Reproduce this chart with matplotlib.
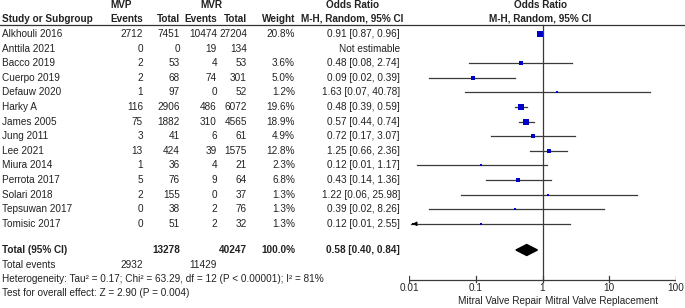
import matplotlib
matplotlib.use("Agg")
import matplotlib.pyplot as plt
import numpy as np

plt.rcParams['font.family'] = ['Liberation Sans', 'DejaVu Sans']

studies = ["Alkhouli 2016", "Anttila 2021", "Bacco 2019", "Cuerpo 2019", "Defauw 2020",
           "Harky A", "James 2005", "Jung 2011", "Lee 2021", "Miura 2014", "Perrota 2017",
           "Solari 2018", "Tepsuwan 2017", "Tomisic 2017"]
mvp_events = [2712, 0, 2, 2, 1, 116, 75, 3, 13, 1, 5, 2, 0, 0]
mvp_total = [7451, 0, 53, 68, 97, 2906, 1882, 41, 424, 36, 76, 155, 38, 51]
mvr_events = [10474, 19, 4, 74, 0, 486, 310, 6, 39, 4, 9, 0, 2, 2]
mvr_total = [27204, 134, 53, 301, 52, 6072, 4565, 61, 1575, 21, 64, 37, 76, 32]
weights = [20.8, None, 3.6, 5.0, 1.2, 19.6, 18.9, 4.9, 12.8, 2.3, 6.8, 1.3, 1.3, 1.3]
odds = [0.91, None, 0.48, 0.09, 1.63, 0.48, 0.57, 0.72, 1.25, 0.12, 0.43, 1.22, 0.39, 0.12]
ci_low = [0.87, None, 0.08, 0.02, 0.07, 0.39, 0.44, 0.17, 0.66, 0.013, 0.14, 0.06, 0.02, 0.006]
ci_high = [0.96, None, 2.74, 0.39, 40.78, 0.59, 0.74, 3.07, 2.36, 1.17, 1.36, 25.98, 8.26, 2.55]
total_mvp, total_mvr = 13278, 40247
events_mvp, events_mvr = 2932, 11429
pooled_or, pooled_lo, pooled_hi = 0.58, 0.40, 0.84
ticks = [0.01, 0.1, 1, 10, 100]
tick_labels = ["0.01", "0.1", "1", "10", "100"]
heterogeneity = "Heterogeneity: Tau\u00b2 = 0.17; Chi\u00b2 = 63.29, df = 12 (P < 0.00001); I\u00b2 = 81%"
overall = "Test for overall effect: Z = 2.90 (P = 0.004)"
left_label, right_label = "Mitral Valve Repair", "Mitral Valve Replacement"

W, H = 685, 308
fig = plt.figure(figsize=(W / 100, H / 100), dpi=100)
fig.patch.set_facecolor("white")

tax = fig.add_axes([0, 0, 1, 1])
tax.set_xlim(0, W)
tax.set_ylim(H, 0)
tax.axis("off")

fs = 7.2
tc = "#222222"
col_x = {"study": 2, "e1": 143, "t1": 180, "e2": 217, "t2": 247, "w": 295, "or": 400}
row0, dy = 34, 14.6
y_total = 250
y_events = 265
y_het = 279
y_test = 293.5

def fmt(v):
    return f"{v:.2f}"

tax.text(121, 5, "MVP", ha="center", va="center", fontsize=fs, fontweight="bold", color=tc)
tax.text(211, 5, "MVR", ha="center", va="center", fontsize=fs, fontweight="bold", color=tc)
tax.text(353, 5, "Odds Ratio", ha="center", va="center", fontsize=fs, fontweight="bold", color=tc)
tax.text(541, 5, "Odds Ratio", ha="center", va="center", fontsize=fs, fontweight="bold", color=tc)
hy = 18.5
tax.text(col_x["study"], hy, "Study or Subgroup", ha="left", va="center", fontsize=fs, fontweight="bold", color=tc)
for key, lab in [("e1", "Events"), ("t1", "Total"), ("e2", "Events"), ("t2", "Total"), ("w", "Weight")]:
    tax.text(col_x[key], hy, lab, ha="right", va="center", fontsize=fs, fontweight="bold", color=tc)
tax.text(352, hy, "M-H, Random, 95% CI", ha="center", va="center", fontsize=fs, fontweight="bold", color=tc)
tax.text(540, hy, "M-H, Random, 95% CI", ha="center", va="center", fontsize=fs, fontweight="bold", color=tc)
tax.plot([0, W], [24.8, 24.8], color="#333333", lw=0.9)

for i, s in enumerate(studies):
    y = row0 + i * dy
    tax.text(col_x["study"], y, s, ha="left", va="center", fontsize=fs, color=tc)
    tax.text(col_x["e1"], y, str(mvp_events[i]), ha="right", va="center", fontsize=fs, color=tc)
    tax.text(col_x["t1"], y, str(mvp_total[i]), ha="right", va="center", fontsize=fs, color=tc)
    tax.text(col_x["e2"], y, str(mvr_events[i]), ha="right", va="center", fontsize=fs, color=tc)
    tax.text(col_x["t2"], y, str(mvr_total[i]), ha="right", va="center", fontsize=fs, color=tc)
    if weights[i] is not None:
        tax.text(col_x["w"], y, f"{weights[i]:.1f}%", ha="right", va="center", fontsize=fs, color=tc)
        tax.text(col_x["or"], y, f"{fmt(odds[i])} [{fmt(ci_low[i])}, {fmt(ci_high[i])}]",
                 ha="right", va="center", fontsize=fs, color=tc)
    else:
        tax.text(col_x["or"], y, "Not estimable", ha="right", va="center", fontsize=fs, color=tc)

tax.text(col_x["study"], y_total, "Total (95% CI)", ha="left", va="center", fontsize=fs, fontweight="bold", color=tc)
tax.text(col_x["t1"], y_total, str(total_mvp), ha="right", va="center", fontsize=fs, fontweight="bold", color=tc)
tax.text(col_x["t2"], y_total, str(total_mvr), ha="right", va="center", fontsize=fs, fontweight="bold", color=tc)
tax.text(col_x["w"], y_total, "100.0%", ha="right", va="center", fontsize=fs, fontweight="bold", color=tc)
tax.text(col_x["or"], y_total, f"{fmt(pooled_or)} [{fmt(pooled_lo)}, {fmt(pooled_hi)}]",
         ha="right", va="center", fontsize=fs, fontweight="bold", color=tc)
tax.text(col_x["study"], y_events, "Total events", ha="left", va="center", fontsize=fs, color=tc)
tax.text(col_x["e1"], y_events, str(events_mvp), ha="right", va="center", fontsize=fs, color=tc)
tax.text(col_x["e2"], y_events, str(events_mvr), ha="right", va="center", fontsize=fs, color=tc)
tax.text(col_x["study"], y_het, heterogeneity, ha="left", va="center", fontsize=fs, color=tc)
tax.text(col_x["study"], y_test, overall, ha="left", va="center", fontsize=fs, color=tc)

x0, x1 = 409, 676
fax = fig.add_axes([x0 / W, 0, (x1 - x0) / W, 1])
fax.set_xscale("log")
fax.set_xlim(0.01, 100)
fax.set_ylim(H, 0)
fax.axis("off")
fax.patch.set_alpha(0)

axis_y = 280
line_c = "#3a3a3a"
fax.plot([1, 1], [24.8, axis_y], color=line_c, lw=0.9)
fax.plot([0.01, 100], [axis_y, axis_y], color=line_c, lw=0.9)
for t, lab in zip(ticks, tick_labels):
    fax.plot([t, t], [axis_y + 1.5, axis_y - 4.5], color=line_c, lw=0.9)
    fax.text(t, axis_y + 8, lab, ha="center", va="center", fontsize=fs, color=tc)
fax.text(0.95, 300.5, left_label, ha="right", va="center", fontsize=fs, color=tc)
fax.text(1.09, 300.5, right_label, ha="left", va="center", fontsize=fs, color=tc)

for i in range(len(studies)):
    if odds[i] is None:
        continue
    y = row0 + i * dy
    lo = max(ci_low[i], 0.0106)
    fax.plot([lo, ci_high[i]], [y, y], color=line_c, lw=0.9, zorder=2)
    if ci_low[i] < 0.01:
        fax.annotate("", xy=(0.0102, y), xytext=(0.0125, y),
                     arrowprops=dict(arrowstyle="-|>", color="black", lw=0.8, mutation_scale=6))
    side_px = 1.8 + 3.4 * np.sqrt(weights[i] / 20.8)
    fax.plot([odds[i]], [y], marker="s", ms=side_px * 0.72, color="#0000c8",
             markeredgewidth=0, zorder=3)

dh = 5.5
fax.fill([pooled_lo, pooled_or, pooled_hi, pooled_or],
         [y_total, y_total - dh, y_total, y_total + dh], color="black", zorder=3)

fig.savefig("out.png", dpi=100, facecolor="white")
